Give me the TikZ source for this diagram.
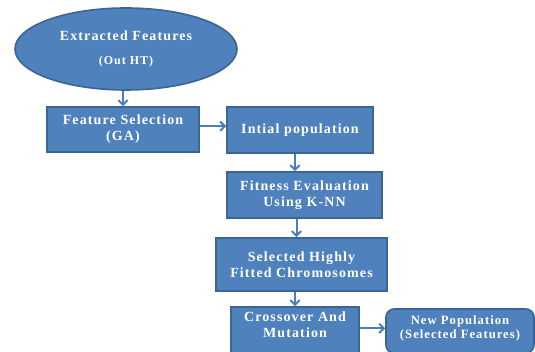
\documentclass[tikz,border=0pt]{standalone}
\usepackage{fontspec}
\newfontfamily\boxfont{Liberation Serif}[LetterSpace=8]
\usetikzlibrary{shapes.geometric,arrows.meta}
\definecolor{boxfill}{HTML}{4F81BD}
\definecolor{boxline}{HTML}{3A6595}
\definecolor{arrowc}{HTML}{4A7EBB}
\newcommand\pxu{0.75pt}
\tikzset{
  flowbox/.style={draw=boxline, fill=boxfill, line width=1.2pt, text=white, align=center, inner sep=0pt,
    font=\boxfont\bfseries\fontsize{10.5}{12}\selectfont},
  smallbox/.style={flowbox, font=\boxfont\bfseries\fontsize{9.5}{10.5}\selectfont},
  flowarrow/.style={draw=arrowc, line width=1.5pt, -{Straight Barb[length=3.5pt,width=7pt]}}
}
\begin{document}
\begin{tikzpicture}[x=0.75pt,y=-0.75pt]
\useasboundingbox (0,0) rectangle (535,352);
\begin{scope}
\clip (0,0) rectangle (535,352);
\node[flowbox, ellipse, minimum width=222*\pxu, minimum height=82*\pxu] (ell) at (126,49)
  {Extracted Features\\[6pt]{\fontsize{9}{10}\selectfont (Out HT)}};
\node[flowbox, minimum width=152*\pxu, minimum height=45*\pxu] (fs) at (123,129.5) {Feature Selection\\(GA)};
\node[flowbox, minimum width=146*\pxu, minimum height=46*\pxu] (ip) at (300,130) {Intial population};
\node[flowbox, minimum width=155*\pxu, minimum height=46*\pxu] (fe) at (304.5,195) {Fitness Evaluation\\Using K-NN};
\node[flowbox, minimum width=171*\pxu, minimum height=53*\pxu] (sh) at (301.5,264.5) {Selected Highly\\Fitted Chromosomes};
\node[flowbox, minimum width=128*\pxu, minimum height=48*\pxu, text depth=0pt] (cm) at (295,331) {};
\node[font=\boxfont\bfseries\fontsize{10.5}{12}\selectfont, text=white, align=center] (cmt) at (295,325) {Crossover And\\Mutation};
\node[smallbox, rounded corners=6pt, minimum width=148*\pxu, minimum height=44*\pxu] (np) at (460,331) {};
\node[font=\boxfont\bfseries\fontsize{9.5}{10.5}\selectfont, text=white, align=center] (npt) at (460,328) {New Population\\(Selected Features)};
\end{scope}
\draw[flowarrow] (fs.north |- ell.south) -- (fs.north);
\draw[flowarrow] ([yshift=2.5pt]fs.east) -- ([yshift=2.5pt]fs.east -| ip.west);
\draw[flowarrow] ([xshift=-3.75pt]ip.south) -- ([xshift=-3.75pt]ip.south |- fe.north);
\draw[flowarrow] ([xshift=-6pt]fe.south) -- ([xshift=-6pt]fe.south |- sh.north);
\draw[flowarrow] (cm.north |- sh.south) -- (cm.north);
\draw[flowarrow] ([yshift=2pt]cm.east) -- ([yshift=2pt]cm.east -| np.west);
\end{tikzpicture}
\end{document}
